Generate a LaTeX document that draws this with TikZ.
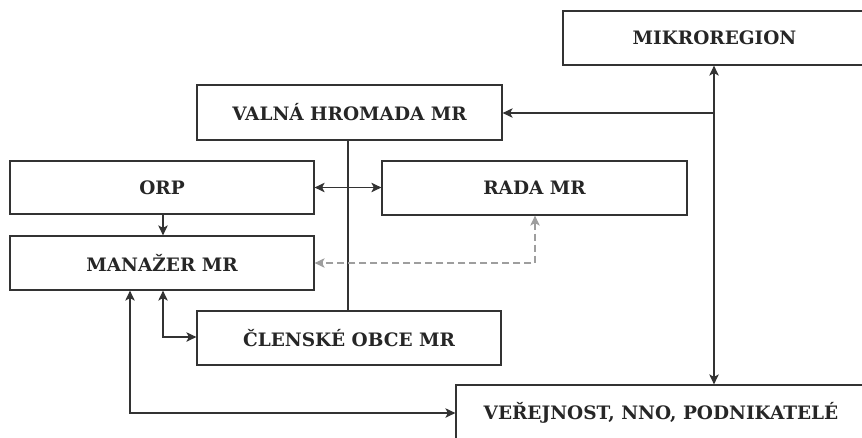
\documentclass[tikz,border=0pt]{standalone}
\usepackage{fontspec}
\setmainfont{DejaVu Serif}
\usetikzlibrary{arrows.meta}
\begin{document}
\begin{tikzpicture}[x=1pt,y=1pt,
  line width=1.25pt,
  ink/.style={draw=black!80},
  box/.style={ink, fill=white, rectangle, inner sep=0pt,
    font=\bfseries\fontsize{18.5}{22}\selectfont, text=black!85},
  head/.tip={Stealth[length=10pt,width=9.5pt,inset=2.5pt]},
  tip/.style={-head},
  tips/.style={head-head},
  soft/.style={draw=black!38, dash pattern=on 7pt off 4pt}]
\useasboundingbox (0,0) rectangle (862,-437);

% organisational units
\node[box, minimum width=303pt, minimum height=54pt] (mik) at (714.5,-38) {MIKROREGION};
\node[box, minimum width=305pt, minimum height=55pt] (val) at (349.5,-112.5) {VALNÁ HROMADA MR};
\node[box, minimum width=304pt, minimum height=53pt] (orp) at (162,-187.5) {ORP};
\node[box, minimum width=305pt, minimum height=54pt] (rada) at (534.5,-188) {RADA MR};
\node[box, minimum width=304pt, minimum height=54pt] (man) at (162,-263) {MANAŽER MR};
\node[box, minimum width=304pt, minimum height=54pt] (cle) at (349,-338) {ČLENSKÉ OBCE MR};
\node[box, minimum width=410pt, minimum height=56pt] (ver) at (661,-413) {VEŘEJNOST, NNO, PODNIKATELÉ};

% helper points
\coordinate (j1) at (714,-113);
\coordinate (d1) at (535,-263);
\coordinate (m1) at (163,-337);
\coordinate (m2) at (130,-413);

% links
\draw[ink, tips] (ver.north -| j1) -- (mik.south -| j1);
\draw[ink, tip] (j1) -- (val.east |- j1);
\draw[ink] (val.south -| 348,0) -- (cle.north -| 348,0);
\draw[ink, tips] (orp.east) -- (rada.west |- orp.east);
\draw[ink, tip] (orp.south -| m1) -- (man.north -| m1);
\draw[soft, tips] (rada.south -| d1) -- (d1) -- (man.east |- d1);
\draw[ink, tips] (man.south -| m1) -- (m1) -- (cle.west |- m1);
\draw[ink, tips] (man.south -| m2) -- (m2) -- (ver.west |- m2);
\end{tikzpicture}
\end{document}
